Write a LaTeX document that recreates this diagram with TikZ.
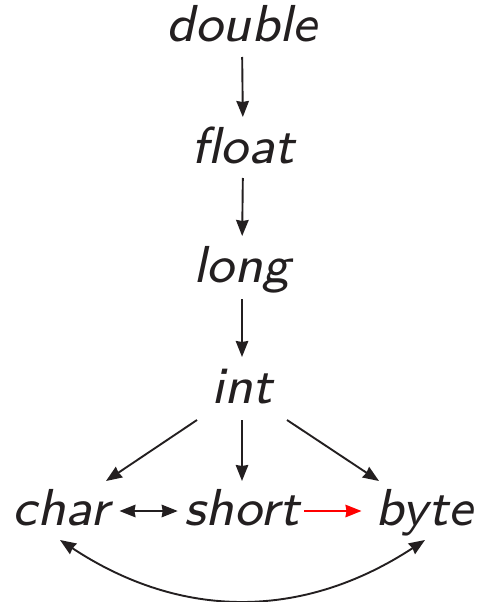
\documentclass[tikz,border=0pt]{standalone}
\usepackage{fontspec}
\newfontfamily\lbfont{lmsans8-oblique.otf}
\usetikzlibrary{arrows.meta}
\definecolor{ink}{RGB}{35,31,32}
\begin{document}
\begin{tikzpicture}[
  lbl/.style={font=\fontsize{52}{56}\selectfont\lbfont, text=ink, inner sep=0pt, outer sep=0pt,
              text height=31pt, text depth=0pt, anchor=base},
  tip/.tip={Stealth[length=16pt,width=12.5pt,inset=1pt]},
  arr/.style={line width=1.9pt, draw=ink, -tip},
  darr/.style={line width=1.9pt, draw=ink, tip-tip},
  vgap/.style={shorten <=15pt, shorten >=15pt}
]
\useasboundingbox (0pt,0pt) rectangle (478pt,-602pt);
\node[lbl] (double) at (242pt,-42pt) {double};
\node[lbl] (float)  at (243pt,-163pt) {float};
\node[lbl] (long)   at (242pt,-282pt) {long};
\node[lbl] (int)    at (242pt,-403pt) {int};
\node[lbl] (char)   at (61pt,-525pt) {char};
\node[lbl] (short)  at (242pt,-525pt) {short};
\node[lbl] (byte)   at (424pt,-525pt) {byte};

\draw[arr,vgap] (double.south) -- (float.north);
\draw[arr,vgap] (float.south) -- (long.north);
\draw[arr,shorten <=17pt, shorten >=15pt] (long.south) -- (int.north);
\draw[arr] ([shift={(0pt,-17pt)}]int.south) -- ([shift={(0pt,13pt)}]short.north);
\draw[arr] ([shift={(-45pt,-17pt)}]int.south) -- ([shift={(45pt,13pt)}]char.north);
\draw[arr] ([shift={(45pt,-17pt)}]int.south) -- ([shift={(-45pt,13pt)}]byte.north);
\draw[darr, shorten <=10pt, shorten >=7pt] ([yshift=-1.5pt]char.east) -- ([yshift=-1.5pt]short.west);
\draw[arr, draw=red, shorten <=5pt, shorten >=14pt] ([yshift=-1.5pt]short.east) -- ([yshift=-1.5pt]byte.west);
\draw[darr] ([shift={(-1pt,-15pt)}]char.south) .. controls +(121pt,-80pt) and +(-122pt,-80pt) .. ([shift={(1pt,-15pt)}]byte.south);
\end{tikzpicture}
\end{document}
